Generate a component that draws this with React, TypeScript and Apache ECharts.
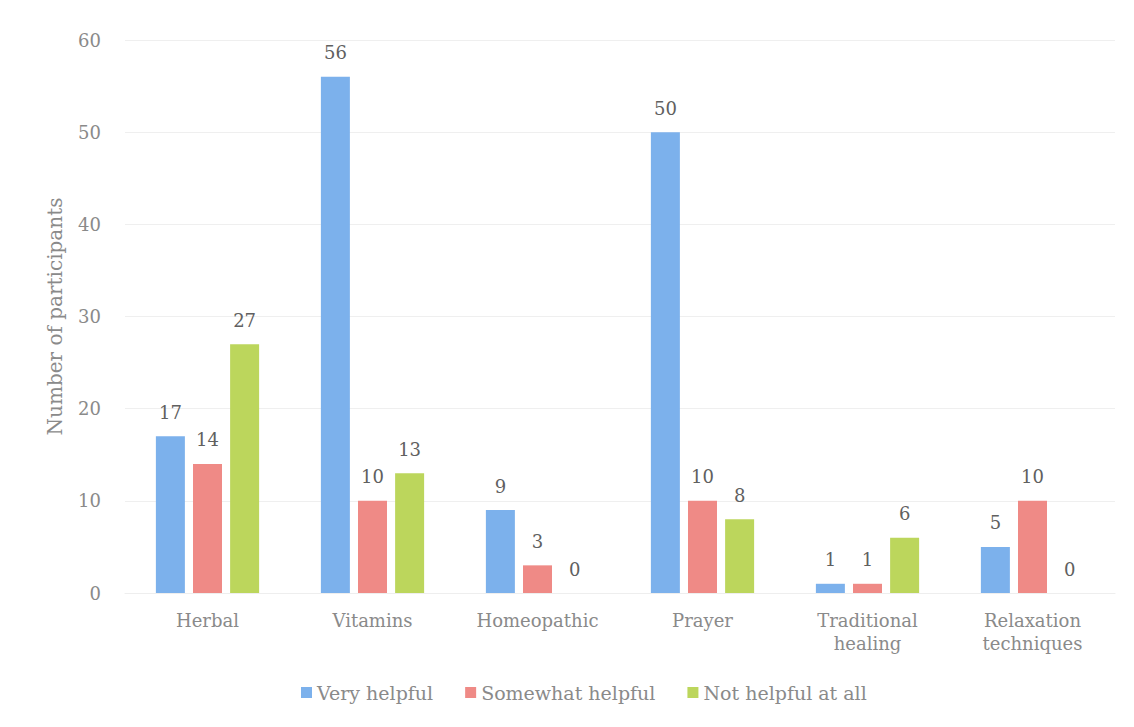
import React, { useEffect, useRef } from "react";
import * as echarts from "echarts";

const categories = ["Herbal", "Vitamins", "Homeopathic", "Prayer", "Traditional\nhealing", "Relaxation\ntechniques"];
const veryHelpful = [17, 56, 9, 50, 1, 5];
const somewhatHelpful = [14, 10, 3, 10, 1, 10];
const notHelpful = [27, 13, 0, 8, 6, 0];
const seriesNames = ["Very helpful", "Somewhat helpful", "Not helpful at all"];
const colors = ["#7cb1ec", "#ef8a86", "#bcd65c"];

const FONT = "DejaVu Serif";

export default function App() {
  const ref = useRef<HTMLDivElement>(null);
  useEffect(() => {
    if (!ref.current) return;
    const chart = echarts.init(ref.current, undefined, { renderer: "svg" });
    const label = {
      show: true,
      position: "top" as const,
      distance: 15,
      color: "#606060",
      fontFamily: FONT,
      fontSize: 18,
    };
    const data = [veryHelpful, somewhatHelpful, notHelpful];
    chart.setOption({
      animation: false,
      backgroundColor: "#ffffff",
      color: colors,
      textStyle: { fontFamily: FONT },
      grid: { left: 125, right: 19, top: 40, bottom: 134 },
      legend: {
        left: 296,
        bottom: 20,
        itemWidth: 11,
        itemHeight: 11,
        itemGap: 32,
        icon: "rect",
        textStyle: { color: "#8a8a8a", fontFamily: FONT, fontSize: 19 },
        data: seriesNames,
      },
      xAxis: {
        type: "category",
        data: categories,
        axisLine: { show: true, lineStyle: { color: "#eeeeee" } },
        axisTick: { show: false },
        axisLabel: { color: "#8a8a8a", fontFamily: FONT, fontSize: 18, margin: 16, lineHeight: 23 },
      },
      yAxis: {
        type: "value",
        min: 0,
        max: 60,
        interval: 10,
        name: "Number of participants",
        nameLocation: "middle",
        nameGap: 60,
        nameTextStyle: { color: "#8a8a8a", fontFamily: FONT, fontSize: 20 },
        axisLine: { show: false },
        axisTick: { show: false },
        axisLabel: { color: "#8a8a8a", fontFamily: FONT, fontSize: 18, margin: 24 },
        splitLine: { lineStyle: { color: "#efefef" } },
      },
      series: seriesNames.map((name, i) => ({
        name,
        type: "bar",
        data: data[i],
        barWidth: 29,
        barGap: "28%",
        label,
      })),
    });
    return () => chart.dispose();
  }, []);
  return <div ref={ref} style={{ width: 1134, height: 727, margin: -8 }} />;
}
